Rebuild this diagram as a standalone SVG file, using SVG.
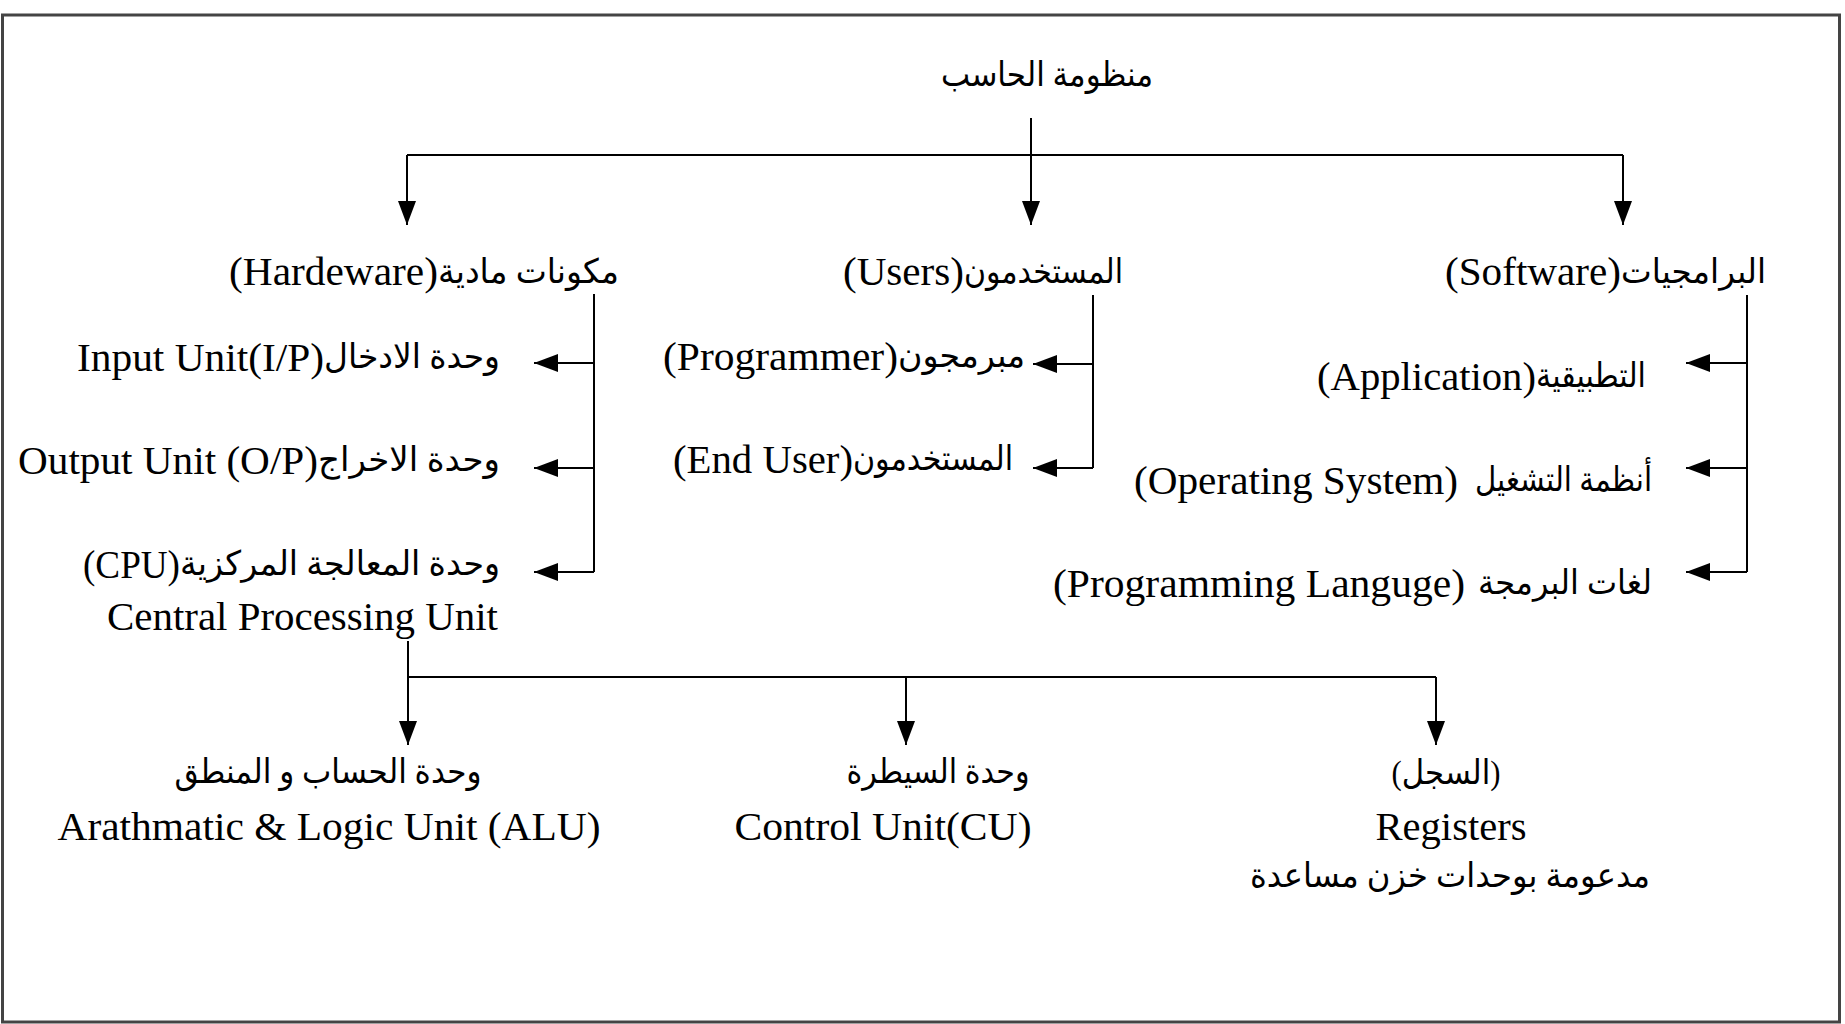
<svg xmlns="http://www.w3.org/2000/svg" width="1845" height="1024" viewBox="0 0 1845 1024">
<defs>
<marker id="ah" markerUnits="userSpaceOnUse" markerWidth="24" markerHeight="20" refX="24" refY="9" orient="auto">
<path d="M0,0 L24,9 L0,18 z" fill="#000"/>
</marker>
<style>
.en{font-family:"Liberation Serif","Times New Roman",serif;font-size:41px;fill:#000}
.ar{font-family:"Liberation Serif","DejaVu Sans",serif;font-size:34px;fill:#000}
.ln{fill:none;stroke:#000;stroke-width:2}
.ar-line{fill:none;stroke:#000;stroke-width:2;marker-end:url(#ah)}
</style>
</defs>
<rect x="2.5" y="15" width="1837" height="1007" fill="#fff" stroke="#444" stroke-width="3"/>

<g id="connectors">
<path class="ar-line" d="M1031,118 V225"/>
<path class="ln" d="M407,155 H1623" stroke-width="3"/>
<path class="ar-line" d="M407,155 V225"/>
<path class="ar-line" d="M1623,155 V225"/>

<path class="ln" d="M594,294 V572"/>
<path class="ar-line" d="M594,363 H534"/>
<path class="ar-line" d="M594,468 H534"/>
<path class="ar-line" d="M594,572 H534"/>

<path class="ln" d="M1093,295 V468"/>
<path class="ar-line" d="M1093,364 H1033"/>
<path class="ar-line" d="M1093,468 H1033"/>

<path class="ln" d="M1747,295 V572"/>
<path class="ar-line" d="M1747,363 H1686"/>
<path class="ar-line" d="M1747,468 H1686"/>
<path class="ar-line" d="M1747,572 H1686"/>

<path class="ar-line" d="M408,641 V745"/>
<path class="ln" d="M408,677 H1436" stroke-width="3"/>
<path class="ar-line" d="M906,677 V745"/>
<path class="ar-line" d="M1436,677 V745"/>
</g>

<g id="root">
<text class="ar" x="1047" y="86" text-anchor="middle" textLength="212" lengthAdjust="spacingAndGlyphs">منظومة الحاسب</text>
</g>

<g id="hardware">
<text class="en" x="438" y="285" text-anchor="end" textLength="209" lengthAdjust="spacingAndGlyphs">(Hardeware)</text>
<text class="ar" x="619" y="283" text-anchor="end" textLength="181" lengthAdjust="spacingAndGlyphs">مكونات مادية</text>
</g>
<g id="users">
<text class="en" x="964" y="285" text-anchor="end" textLength="121" lengthAdjust="spacingAndGlyphs">(Users)</text>
<text class="ar" x="1123" y="283" text-anchor="end" textLength="159" lengthAdjust="spacingAndGlyphs">المستخدمون</text>
</g>
<g id="software">
<text class="en" x="1621" y="285" text-anchor="end" textLength="176" lengthAdjust="spacingAndGlyphs">(Software)</text>
<text class="ar" x="1766" y="283" text-anchor="end" textLength="145" lengthAdjust="spacingAndGlyphs">البرامجيات</text>
</g>

<g id="input-unit">
<text class="en" x="324" y="371" text-anchor="end" textLength="247" lengthAdjust="spacingAndGlyphs">Input Unit(I/P)</text>
<text class="ar" x="500" y="368" text-anchor="end" textLength="176" lengthAdjust="spacingAndGlyphs">وحدة الادخال</text>
</g>
<g id="output-unit">
<text class="en" x="318" y="474" text-anchor="end" textLength="300" lengthAdjust="spacingAndGlyphs">Output Unit (O/P)</text>
<text class="ar" x="500" y="471" text-anchor="end" textLength="182" lengthAdjust="spacingAndGlyphs">وحدة الاخراج</text>
</g>
<g id="cpu">
<text class="en" x="180" y="578" text-anchor="end" textLength="97" lengthAdjust="spacingAndGlyphs">(CPU)</text>
<text class="ar" x="500" y="575" text-anchor="end" textLength="320" lengthAdjust="spacingAndGlyphs">وحدة المعالجة المركزية</text>
<text class="en" x="498" y="630" text-anchor="end" textLength="391" lengthAdjust="spacingAndGlyphs">Central Processing Unit</text>
</g>

<g id="programmer">
<text class="en" x="898" y="370" text-anchor="end" textLength="235" lengthAdjust="spacingAndGlyphs">(Programmer)</text>
<text class="ar" x="1025" y="367" text-anchor="end" textLength="127" lengthAdjust="spacingAndGlyphs">مبرمجون</text>
</g>
<g id="end-user">
<text class="en" x="853" y="473" text-anchor="end" textLength="180" lengthAdjust="spacingAndGlyphs">(End User)</text>
<text class="ar" x="1013" y="470" text-anchor="end" textLength="160" lengthAdjust="spacingAndGlyphs">المستخدمون</text>
</g>

<g id="application">
<text class="en" x="1536" y="390" text-anchor="end" textLength="219" lengthAdjust="spacingAndGlyphs">(Application)</text>
<text class="ar" x="1646" y="387" text-anchor="end" textLength="110" lengthAdjust="spacingAndGlyphs">التطبيقية</text>
</g>
<g id="operating-system">
<text class="en" x="1458" y="494" text-anchor="end" textLength="324" lengthAdjust="spacingAndGlyphs">(Operating System)</text>
<text class="ar" x="1652" y="491" text-anchor="end" textLength="177" lengthAdjust="spacingAndGlyphs">أنظمة التشغيل</text>
</g>
<g id="programming-language">
<text class="en" x="1465" y="597" text-anchor="end" textLength="412" lengthAdjust="spacingAndGlyphs">(Programming Languge)</text>
<text class="ar" x="1652" y="594" text-anchor="end" textLength="174" lengthAdjust="spacingAndGlyphs">لغات البرمجة</text>
</g>

<g id="alu">
<text class="ar" x="328" y="783" text-anchor="middle" textLength="307" lengthAdjust="spacingAndGlyphs">وحدة الحساب و المنطق</text>
<text class="en" x="329" y="840" text-anchor="middle" textLength="543" lengthAdjust="spacingAndGlyphs">Arathmatic &amp; Logic Unit (ALU)</text>
</g>
<g id="cu">
<text class="ar" x="938" y="783" text-anchor="middle" textLength="183" lengthAdjust="spacingAndGlyphs">وحدة السيطرة</text>
<text class="en" x="883" y="840" text-anchor="middle" textLength="297" lengthAdjust="spacingAndGlyphs">Control Unit(CU)</text>
</g>
<g id="registers">
<text class="ar" x="1446" y="784" text-anchor="middle" textLength="109" lengthAdjust="spacingAndGlyphs">(السجل)</text>
<text class="en" x="1451" y="840" text-anchor="middle" textLength="151" lengthAdjust="spacingAndGlyphs">Registers</text>
<text class="ar" x="1450" y="887" text-anchor="middle" font-size="31" textLength="400" lengthAdjust="spacingAndGlyphs">مدعومة بوحدات خزن مساعدة</text>
</g>
</svg>
